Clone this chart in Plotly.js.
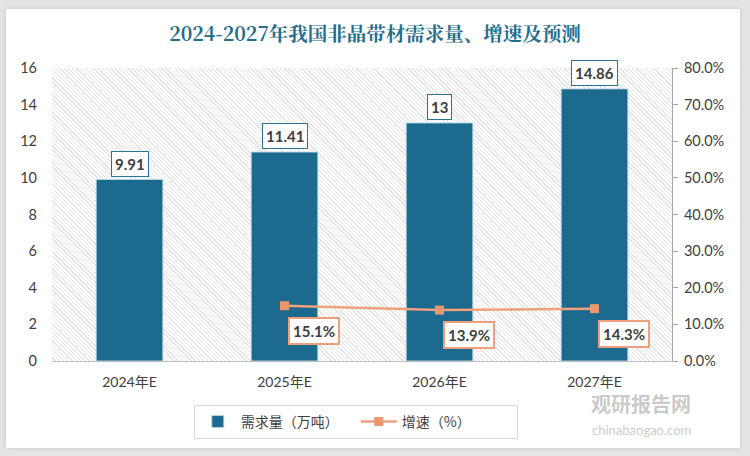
<!DOCTYPE html>
<html>
<head>
<meta charset="utf-8">
<script src="https://cdn.plot.ly/plotly-3.0.1.min.js"></script>
<style>
  html, body { margin:0; padding:0; }
  body { width:750px; height:456px; background:#e4e4e4; position:relative; overflow:hidden; }
  #panel { position:absolute; left:6px; top:9px; width:734px; height:439px; background:#ffffff; box-shadow:0 0 4px rgba(0,0,0,0.15); }
  #hatch { position:absolute; left:52px; top:68px; width:620px; height:293px;
    background: repeating-linear-gradient(45deg, #ffffff 0px, #ffffff 2px, #e3e3e3 2px, #e3e3e3 3px); }
  #chart { position:absolute; left:0; top:0; width:750px; height:456px; }
</style>
</head>
<body>
<div id="panel"></div>
<div id="hatch"></div>
<div id="chart"></div>
<script>
const categories = ['2024年E', '2025年E', '2026年E', '2027年E'];
const demand = [9.91, 11.41, 13, 14.86];
const growthCats = ['2025年E', '2026年E', '2027年E'];
const growth = [0.151, 0.139, 0.143];
const demandLabels = ['9.91', '11.41', '13', '14.86'];
const growthLabels = ['15.1%', '13.9%', '14.3%'];
const leftTicks = [0, 2, 4, 6, 8, 10, 12, 14, 16];
const rightTicks = [0, 0.1, 0.2, 0.3, 0.4, 0.5, 0.6, 0.7, 0.8];

const numFont = 'Lato, "Open Sans", "Noto Sans CJK SC", sans-serif';
const cjkFont = '"Noto Sans CJK SC", sans-serif';

const traces = [
  {
    type: 'bar', name: '需求量（万吨）', x: categories, y: demand,
    marker: { color: '#1c6a8e', line: { color: 'rgba(190,215,230,0.9)', width: 1 } },
    width: 0.43, hoverinfo: 'x+y'
  },
  {
    type: 'scatter', mode: 'lines+markers', name: '增速（%）', x: growthCats, y: growth,
    yaxis: 'y2', line: { color: '#f0a27e', width: 2.5 },
    marker: { symbol: 'square', size: 9, color: '#e8976f' }
  }
];

const annotations = [];
categories.forEach((c, i) => {
  annotations.push({
    x: c, y: demand[i], xref: 'x', yref: 'y', text: '<b>' + demandLabels[i] + '</b>',
    showarrow: false, yanchor: 'bottom', yshift: 3,
    font: { family: numFont, size: 15, color: '#404040' },
    bgcolor: '#ffffff', bordercolor: '#2a7395', borderwidth: 1, borderpad: 3
  });
});
growthCats.forEach((c, i) => {
  annotations.push({
    x: c, y: growth[i], xref: 'x', yref: 'y2', text: '<b>' + growthLabels[i] + '</b>',
    showarrow: false, yanchor: 'top', xanchor: 'left', xshift: 3, yshift: -11,
    font: { family: numFont, size: 15, color: '#404040' },
    bgcolor: '#ffffff', bordercolor: '#ef9f7b', borderwidth: 2, borderpad: 3
  });
});
annotations.push({
  xref: 'paper', yref: 'paper', x: 0.95, y: -0.145, xanchor: 'center', yanchor: 'middle',
  text: '<b>观研报告网</b>', showarrow: false,
  font: { family: cjkFont, size: 20, color: 'rgba(150,150,150,0.5)' }
});
annotations.push({
  xref: 'paper', yref: 'paper', x: 0.95, y: -0.235, xanchor: 'center', yanchor: 'middle',
  text: 'chinabaogao.com', showarrow: false,
  font: { family: numFont, size: 13, color: 'rgba(150,150,150,0.5)' }
});

const layout = {
  width: 750, height: 456,
  paper_bgcolor: 'rgba(0,0,0,0)', plot_bgcolor: 'rgba(0,0,0,0)',
  margin: { l: 52, r: 78, t: 68, b: 95 },
  title: {
    text: '<b>2024-2027年我国非晶带材需求量、增速及预测</b>',
    x: 0.5, xanchor: 'center', y: 0.925, yanchor: 'middle',
    font: { family: '"Noto Serif CJK SC", "Noto Sans CJK SC", serif', size: 19.5, color: '#1f6e8e' }
  },
  showlegend: true,
  legend: {
    orientation: 'h', x: 0.49, xanchor: 'center', y: -0.15, yanchor: 'top',
    bgcolor: '#ffffff', bordercolor: '#d9d9d9', borderwidth: 1,
    font: { family: cjkFont, size: 14, color: '#404040' },
    itemwidth: 36, entrywidth: 110, tracegroupgap: 0
  },
  xaxis: {
    type: 'category', range: [-0.5, 3.5], showgrid: false,
    showline: true, linecolor: '#bfbfbf', linewidth: 1, ticks: '', ticklabelstandoff: 8,
    tickfont: { family: numFont, size: 14, color: '#404040' }, fixedrange: true
  },
  yaxis: {
    range: [0, 16], tickvals: leftTicks, showgrid: false, zeroline: false, showline: false,
    ticks: '', ticklen: 0, ticklabelstandoff: 14,
    tickfont: { family: numFont, size: 14.5, color: '#404040' },
    fixedrange: true
  },
  yaxis2: {
    overlaying: 'y', side: 'right', range: [0, 0.8], tickvals: rightTicks, tickformat: '.1%',
    showgrid: false, zeroline: false, showline: true, linecolor: '#a6a6a6', linewidth: 1,
    ticks: 'outside', ticklen: 5, tickcolor: '#a6a6a6', ticklabelstandoff: 3,
    tickfont: { family: numFont, size: 14.5, color: '#404040' }, fixedrange: true
  },
  annotations: annotations,
  bargap: 0.57
};

Plotly.newPlot('chart', traces, layout, { displayModeBar: false, staticPlot: true });
</script>
</body>
</html>
